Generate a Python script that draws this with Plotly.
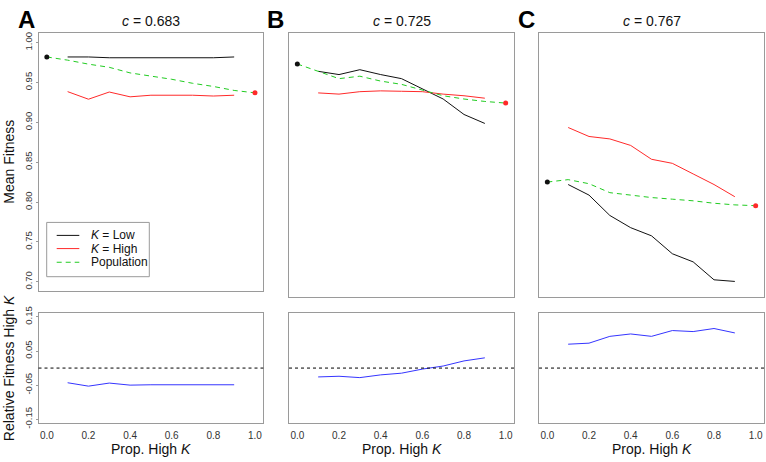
import plotly.graph_objects as go

W, H = 766, 462

# ---------------- data ----------------
prop = [0.1, 0.2, 0.3, 0.4, 0.5, 0.6, 0.7, 0.8, 0.9]
prop_pop = [0.0, 0.1, 0.2, 0.3, 0.4, 0.5, 0.6, 0.7, 0.8, 0.9, 1.0]

titles = ["0.683", "0.725", "0.767"]
letters = ["A", "B", "C"]

low_A = [0.982, 0.982, 0.981, 0.981, 0.981, 0.981, 0.981, 0.981, 0.982]
high_A = [0.9385, 0.929, 0.938, 0.932, 0.934, 0.934, 0.934, 0.933, 0.934]
pop_A = [0.982, 0.978, 0.973, 0.969, 0.962, 0.958, 0.954, 0.949, 0.945, 0.940, 0.937]
rel_A = [-0.043, -0.053, -0.044, -0.050, -0.049, -0.049, -0.049, -0.050, -0.049]

low_B = [0.965, 0.961, 0.967, 0.961, 0.956, 0.944, 0.931, 0.912, 0.901]
high_B = [0.9385, 0.937, 0.940, 0.941, 0.9405, 0.940, 0.937, 0.935, 0.932]
pop_B = [0.974, 0.965, 0.956, 0.959, 0.953, 0.949, 0.942, 0.935, 0.931, 0.928, 0.926]
rel_B = [-0.026, -0.024, -0.028, -0.020, -0.015, -0.003, 0.006, 0.021, 0.030]

low_C = [0.826, 0.813, 0.788, 0.773, 0.763, 0.741, 0.731, 0.709, 0.707]
high_C = [0.896, 0.885, 0.882, 0.874, 0.857, 0.852, 0.839, 0.826, 0.811]
pop_C = [0.829, 0.832, 0.827, 0.816, 0.813, 0.810, 0.808, 0.806, 0.803, 0.801, 0.800]
rel_C = [0.070, 0.073, 0.093, 0.100, 0.093, 0.110, 0.107, 0.116, 0.103]

low_sets = [low_A, low_B, low_C]
high_sets = [high_A, high_B, high_C]
pop_sets = [pop_A, pop_B, pop_C]
rel_sets = [rel_A, rel_B, rel_C]

y_top_ticks = [0.70, 0.75, 0.80, 0.85, 0.90, 0.95, 1.00]
y_bot_ticks = [-0.15, -0.05, 0.05, 0.15]
x_ticks = [0.0, 0.2, 0.4, 0.6, 0.8, 1.0]

# ---------------- layout geometry (pixels) ----------------
xpix = [(38.5, 263.3), (289.0, 514.0), (539.0, 764.0)]
ytop_pix = [(27.7, 292.3), (27.7, 298.0), (27.7, 298.0)]
ybot_pix = (314.3, 427.5)

FONT = "Arial, Liberation Sans, sans-serif"
FRAME = "#9a9a9a"

BLACK = "#111111"
RED = "#ff2a2a"
GREEN = "#22cc22"
BLUE = "#3535ff"


def px_x(p):
    return p / W


def px_y(p):
    return 1 - p / H


fig = go.Figure()

layout = dict(
    width=W, height=H,
    margin=dict(l=0, r=0, t=0, b=0),
    paper_bgcolor="white", plot_bgcolor="white",
    showlegend=False,
    font=dict(family=FONT, color="#222"),
)

for i in range(3):
    top_idx = i + 1
    bot_idx = i + 4
    xt = "x" if top_idx == 1 else f"x{top_idx}"
    yt = "y" if top_idx == 1 else f"y{top_idx}"
    xb = f"x{bot_idx}"
    yb = f"y{bot_idx}"

    # Mean fitness lines
    fig.add_trace(go.Scatter(x=prop, y=low_sets[i], mode="lines",
                             line=dict(color=BLACK, width=1), xaxis=xt, yaxis=yt))
    fig.add_trace(go.Scatter(x=prop, y=high_sets[i], mode="lines",
                             line=dict(color=RED, width=1), xaxis=xt, yaxis=yt))
    fig.add_trace(go.Scatter(x=prop_pop, y=pop_sets[i], mode="lines",
                             line=dict(color=GREEN, width=1, dash="5px,4px"),
                             xaxis=xt, yaxis=yt))
    fig.add_trace(go.Scatter(x=[prop_pop[0]], y=[pop_sets[i][0]], mode="markers",
                             marker=dict(color=BLACK, size=5), xaxis=xt, yaxis=yt))
    fig.add_trace(go.Scatter(x=[prop_pop[-1]], y=[pop_sets[i][-1]], mode="markers",
                             marker=dict(color=RED, size=5), xaxis=xt, yaxis=yt))
    # Relative fitness
    fig.add_trace(go.Scatter(x=prop, y=rel_sets[i], mode="lines",
                             line=dict(color=BLUE, width=1), xaxis=xb, yaxis=yb))

    xdom = [px_x(xpix[i][0]), px_x(xpix[i][1])]
    ytd = [px_y(ytop_pix[i][1]), px_y(ytop_pix[i][0])]
    ybd = [px_y(ybot_pix[1]), px_y(ybot_pix[0])]

    frame = dict(showline=True, linecolor=FRAME, linewidth=1, mirror=True,
                 showgrid=False, zeroline=False)

    xkey_t = "xaxis" if top_idx == 1 else f"xaxis{top_idx}"
    ykey_t = "yaxis" if top_idx == 1 else f"yaxis{top_idx}"
    layout[xkey_t] = dict(domain=xdom, range=[-0.04, 1.04], anchor=yt,
                          showticklabels=False, ticks="", **frame)
    ytop = dict(domain=ytd, range=[0.688, 1.012], anchor=xt, **frame)
    if i == 0:
        ytop.update(tickvals=y_top_ticks, ticktext=[f"{v:.2f}" for v in y_top_ticks],
                    ticks="outside", ticklen=2, tickcolor=FRAME, tickangle=-90,
                    ticklabelstandoff=0,
                    tickfont=dict(size=9.5, color="#333", family=FONT))
    else:
        ytop.update(showticklabels=False, ticks="")
    layout[ykey_t] = ytop

    layout[f"xaxis{bot_idx}"] = dict(domain=xdom, range=[-0.04, 1.04], anchor=yb,
                                     tickvals=x_ticks,
                                     ticktext=[f"{v:.1f}" for v in x_ticks],
                                     ticks="", ticklabelstandoff=3,
                                     ticklabeloverflow="allow",
                                     tickfont=dict(size=10, color="#333", family=FONT),
                                     **frame)
    ybot = dict(domain=ybd, range=[-0.162, 0.162], anchor=xb, **frame)
    if i == 0:
        ybot.update(tickvals=y_bot_ticks, ticktext=[f"{v:.2f}" for v in y_bot_ticks],
                    ticks="outside", ticklen=2, tickcolor=FRAME, tickangle=-90,
                    ticklabelstandoff=0,
                    tickfont=dict(size=9.5, color="#333", family=FONT))
    else:
        ybot.update(showticklabels=False, ticks="")
    layout[f"yaxis{bot_idx}"] = ybot

fig.update_layout(**layout)

shapes = []
annotations = []
letter_x = [26, 275, 526]
for i in range(3):
    bot_idx = i + 4
    # zero reference line
    shapes.append(dict(type="line", xref=f"x{bot_idx} domain", yref=f"y{bot_idx}",
                       x0=0, x1=1, y0=0, y1=0,
                       line=dict(color="black", width=1, dash="dot")))
    cx = (xpix[i][0] + xpix[i][1]) / 2
    annotations.append(dict(text=f"<i>c</i> = {titles[i]}", x=px_x(cx), y=px_y(15),
                            xref="paper", yref="paper", showarrow=False,
                            xanchor="center", yanchor="middle",
                            font=dict(size=14, color="#111", family=FONT)))
    annotations.append(dict(text="Prop. High <i>K</i>", x=px_x(cx), y=px_y(453.5),
                            xref="paper", yref="paper", showarrow=False,
                            xanchor="center", yanchor="middle",
                            font=dict(size=14, color="#111", family=FONT)))
    annotations.append(dict(text=f"<b>{letters[i]}</b>", x=px_x(letter_x[i]), y=px_y(13.5),
                            xref="paper", yref="paper", showarrow=False,
                            xanchor="center", yanchor="middle",
                            font=dict(size=24, color="black", family=FONT)))

annotations.append(dict(text="Mean Fitness", x=px_x(9.5), y=px_y(160),
                        xref="paper", yref="paper", showarrow=False, textangle=-90,
                        xanchor="center", yanchor="middle",
                        font=dict(size=14, color="#111", family=FONT)))
annotations.append(dict(text="Relative Fitness High <i>K</i>", x=px_x(9), y=px_y(371),
                        xref="paper", yref="paper", showarrow=False, textangle=-90,
                        xanchor="center", yanchor="middle",
                        font=dict(size=14, color="#111", family=FONT)))

# legend box (panel A)
shapes.append(dict(type="rect", xref="paper", yref="paper",
                   x0=px_x(46.7), x1=px_x(149.3), y0=px_y(277.3), y1=px_y(221.7),
                   line=dict(color=FRAME, width=1), fillcolor="white"))
leg_items = [("<i>K</i> = Low", BLACK, None, 235.0),
             ("<i>K</i> = High", RED, None, 248.5),
             ("Population", GREEN, "5px,4px", 262.5)]
for txt, col, dash, yy in leg_items:
    ln = dict(color=col, width=1)
    if dash:
        ln["dash"] = dash
    shapes.append(dict(type="line", xref="paper", yref="paper",
                       x0=px_x(56.7), x1=px_x(79.3), y0=px_y(yy), y1=px_y(yy), line=ln))
    annotations.append(dict(text=txt, x=px_x(89.3), y=px_y(yy), xref="paper", yref="paper",
                            showarrow=False, xanchor="left", yanchor="middle",
                            font=dict(size=12, color="#111", family=FONT)))

fig.update_layout(shapes=shapes, annotations=annotations)

fig.write_html("out.html",
               config={"displayModeBar": False},
               post_script="document.body.style.margin='0';document.body.style.overflow='hidden';")
